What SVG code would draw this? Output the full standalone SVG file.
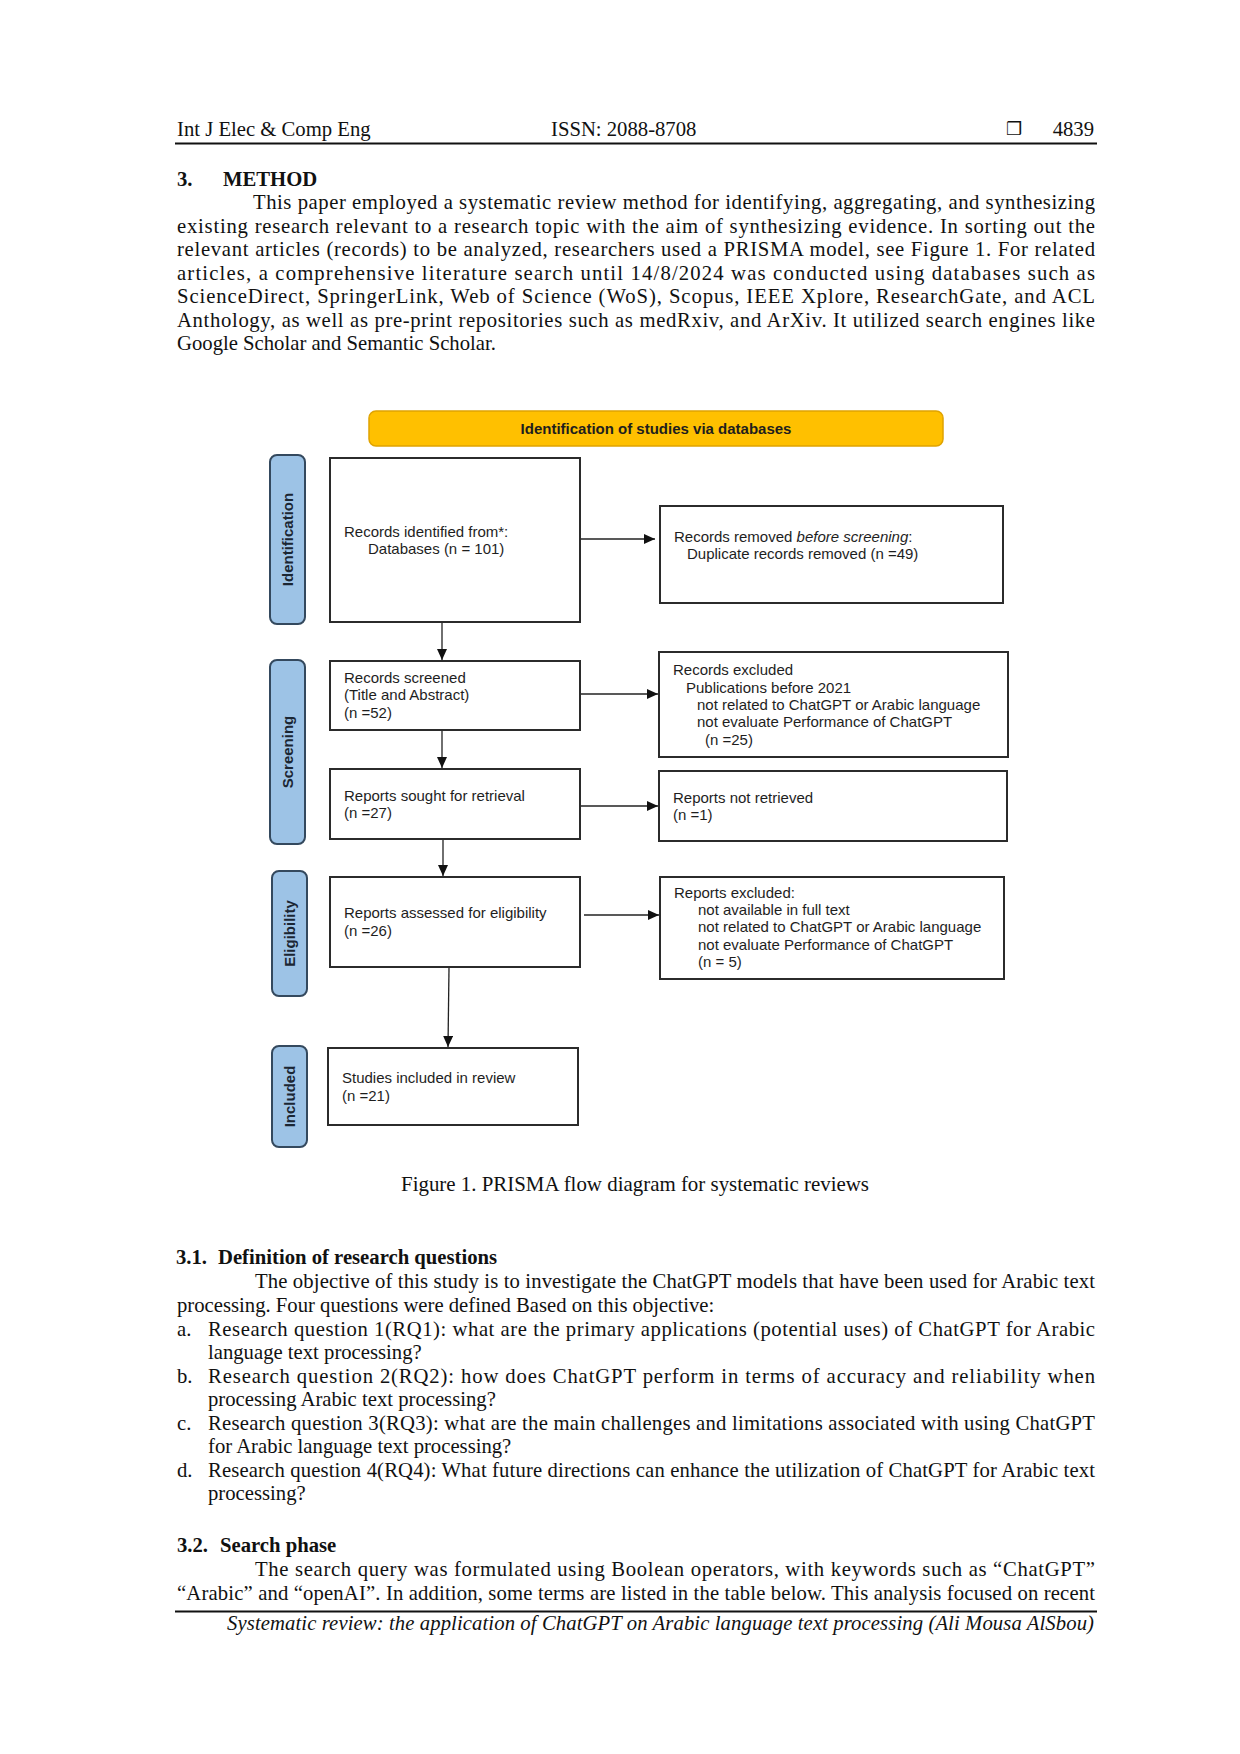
<svg xmlns="http://www.w3.org/2000/svg" width="1240" height="1754" viewBox="0 0 1240 1754">
<style>
.pg{font-family:"Liberation Serif","Times New Roman",serif;font-size:20.7px;fill:#111}
.b{font-weight:bold}
.it{font-style:italic}
.dg{font-family:"Liberation Sans",Arial,sans-serif;font-size:15px;fill:#1e1e1e}
.box{fill:#fff;stroke:#2b2b2b;stroke-width:2}
.side{fill:#9dc3e6;stroke:#34495e;stroke-width:2}
.sidet{font-family:"Liberation Sans",Arial,sans-serif;font-size:15px;font-weight:bold;fill:#1b2633}
.con{stroke:#222;stroke-width:1.3;fill:none}
</style>
<defs>
<marker id="ah" markerUnits="userSpaceOnUse" markerWidth="11" markerHeight="10" refX="11" refY="5" orient="auto">
<path d="M0,0 L11,5 L0,10 z" fill="#111"/>
</marker>
</defs>
<rect width="1240" height="1754" fill="#fff"/>

<g id="page-header">
<text class="pg" x="177" y="136">Int J Elec &amp; Comp Eng</text>
<text class="pg" x="551" y="136">ISSN: 2088-8708</text>
<text x="1006" y="135" style="font-family:'DejaVu Sans',sans-serif;font-size:18px;fill:#111">❒</text>
<text class="pg" x="1094" y="136" text-anchor="end">4839</text>
<line x1="175" y1="143.5" x2="1097" y2="143.5" stroke="#111" stroke-width="2"/>
</g>

<g id="section-3">
<text class="pg b" x="177" y="185.5">3.</text>
<text class="pg b" x="223" y="185.5">METHOD</text>
<text class="pg" x="253" y="209" textLength="842" lengthAdjust="spacing">This paper employed a systematic review method for identifying, aggregating, and synthesizing</text>
<text class="pg" x="177" y="232.5" textLength="918" lengthAdjust="spacing">existing research relevant to a research topic with the aim of synthesizing evidence. In sorting out the</text>
<text class="pg" x="177" y="256" textLength="918" lengthAdjust="spacing">relevant articles (records) to be analyzed, researchers used a PRISMA model, see Figure 1. For related</text>
<text class="pg" x="177" y="279.5" textLength="918" lengthAdjust="spacing">articles, a comprehensive literature search until 14/8/2024 was conducted using databases such as</text>
<text class="pg" x="177" y="303" textLength="918" lengthAdjust="spacing">ScienceDirect, SpringerLink, Web of Science (WoS), Scopus, IEEE Xplore, ResearchGate, and ACL</text>
<text class="pg" x="177" y="326.5" textLength="918" lengthAdjust="spacing">Anthology, as well as pre-print repositories such as medRxiv, and ArXiv. It utilized search engines like</text>
<text class="pg" x="177" y="350">Google Scholar and Semantic Scholar.</text>
</g>

<g id="diagram">
<g id="title">
<rect x="369" y="411" width="574" height="35" rx="7" fill="#ffc000" stroke="#e0a300" stroke-width="1.5"/>
<text class="dg b" x="656" y="434" text-anchor="middle" style="font-weight:bold">Identification of studies via databases</text>
</g>

<g id="lbl-identification">
<rect class="side" x="270" y="455" width="35" height="169" rx="7"/>
<text class="sidet" transform="translate(287.5,539.5) rotate(-90)" text-anchor="middle" y="5.3">Identification</text>
</g>
<g id="lbl-screening">
<rect class="side" x="270" y="660" width="35" height="184" rx="7"/>
<text class="sidet" transform="translate(287.5,752) rotate(-90)" text-anchor="middle" y="5.3">Screening</text>
</g>
<g id="lbl-eligibility">
<rect class="side" x="272" y="871" width="35" height="125" rx="7"/>
<text class="sidet" transform="translate(289.5,933.5) rotate(-90)" text-anchor="middle" y="5.3">Eligibility</text>
</g>
<g id="lbl-included">
<rect class="side" x="272" y="1046" width="35" height="101" rx="7"/>
<text class="sidet" transform="translate(289.5,1096.5) rotate(-90)" text-anchor="middle" y="5.3">Included</text>
</g>

<g id="n-identified">
<rect class="box" x="330" y="458" width="250" height="164"/>
<text class="dg" x="344" y="537">Records identified from*:</text>
<text class="dg" x="368" y="554">Databases (n = 101)</text>
</g>
<g id="n-removed">
<rect class="box" x="660" y="506" width="343" height="97"/>
<text class="dg" x="674" y="542">Records removed <tspan font-style="italic">before screening</tspan>:</text>
<text class="dg" x="687" y="559">Duplicate records removed (n =49)</text>
</g>
<g id="n-screened">
<rect class="box" x="330" y="661" width="250" height="69"/>
<text class="dg" x="344" y="683">Records screened</text>
<text class="dg" x="344" y="700">(Title and Abstract)</text>
<text class="dg" x="344" y="718">(n =52)</text>
</g>
<g id="n-excluded">
<rect class="box" x="659" y="652" width="349" height="105"/>
<text class="dg" x="673" y="675">Records excluded</text>
<text class="dg" x="686" y="693">Publications before 2021</text>
<text class="dg" x="697" y="710">not related to ChatGPT or Arabic language</text>
<text class="dg" x="697" y="727">not evaluate Performance of ChatGPT</text>
<text class="dg" x="705" y="745">(n =25)</text>
</g>
<g id="n-sought">
<rect class="box" x="330" y="769" width="250" height="70"/>
<text class="dg" x="344" y="801">Reports sought for retrieval</text>
<text class="dg" x="344" y="818">(n =27)</text>
</g>
<g id="n-notretrieved">
<rect class="box" x="659" y="771" width="348" height="70"/>
<text class="dg" x="673" y="803">Reports not retrieved</text>
<text class="dg" x="673" y="820">(n =1)</text>
</g>
<g id="n-eligibility">
<rect class="box" x="330" y="877" width="250" height="90"/>
<text class="dg" x="344" y="918">Reports assessed for eligibility</text>
<text class="dg" x="344" y="936">(n =26)</text>
</g>
<g id="n-reportsexcluded">
<rect class="box" x="660" y="877" width="344" height="102"/>
<text class="dg" x="674" y="898">Reports excluded:</text>
<text class="dg" x="698" y="915">not available in full text</text>
<text class="dg" x="698" y="932">not related to ChatGPT or Arabic language</text>
<text class="dg" x="698" y="950">not evaluate Performance of ChatGPT</text>
<text class="dg" x="698" y="967">(n = 5)</text>
</g>
<g id="n-included">
<rect class="box" x="328" y="1048" width="250" height="77"/>
<text class="dg" x="342" y="1083">Studies included in review</text>
<text class="dg" x="342" y="1101">(n =21)</text>
</g>

<g id="connectors">
<line class="con" x1="581" y1="539" x2="655" y2="539" marker-end="url(#ah)"/>
<line class="con" x1="442" y1="623" x2="442" y2="660" marker-end="url(#ah)"/>
<line class="con" x1="581" y1="694" x2="658" y2="694" marker-end="url(#ah)"/>
<line class="con" x1="442" y1="731" x2="442" y2="768" marker-end="url(#ah)"/>
<line class="con" x1="581" y1="806" x2="658" y2="806" marker-end="url(#ah)"/>
<line class="con" x1="443" y1="840" x2="443" y2="876" marker-end="url(#ah)"/>
<line class="con" x1="584" y1="915" x2="659" y2="915" marker-end="url(#ah)"/>
<line class="con" x1="449" y1="968" x2="448" y2="1047" marker-end="url(#ah)"/>
</g>
</g>

<g id="caption">
<text class="pg" x="401" y="1191" textLength="468" lengthAdjust="spacingAndGlyphs">Figure 1. PRISMA flow diagram for systematic reviews</text>
</g>

<g id="section-3-1">
<text class="pg b" x="176" y="1264">3.1.</text>
<text class="pg b" x="218" y="1264">Definition of research questions</text>
<text class="pg" x="255" y="1288" textLength="840" lengthAdjust="spacing">The objective of this study is to investigate the ChatGPT models that have been used for Arabic text</text>
<text class="pg" x="177" y="1311.5">processing. Four questions were defined Based on this objective:</text>
<text class="pg" x="177" y="1335.5">a.</text>
<text class="pg" x="208" y="1335.5" textLength="887" lengthAdjust="spacing">Research question 1(RQ1): what are the primary applications (potential uses) of ChatGPT for Arabic</text>
<text class="pg" x="208" y="1359">language text processing?</text>
<text class="pg" x="177" y="1382.5">b.</text>
<text class="pg" x="208" y="1382.5" textLength="887" lengthAdjust="spacing">Research question 2(RQ2): how does ChatGPT perform in terms of accuracy and reliability when</text>
<text class="pg" x="208" y="1406">processing Arabic text processing?</text>
<text class="pg" x="177" y="1429.5">c.</text>
<text class="pg" x="208" y="1429.5" textLength="887" lengthAdjust="spacing">Research question 3(RQ3): what are the main challenges and limitations associated with using ChatGPT</text>
<text class="pg" x="208" y="1453">for Arabic language text processing?</text>
<text class="pg" x="177" y="1476.5">d.</text>
<text class="pg" x="208" y="1476.5" textLength="887" lengthAdjust="spacing">Research question 4(RQ4): What future directions can enhance the utilization of ChatGPT for Arabic text</text>
<text class="pg" x="208" y="1500">processing?</text>
</g>

<g id="section-3-2">
<text class="pg b" x="177" y="1551.5">3.2.</text>
<text class="pg b" x="220" y="1551.5">Search phase</text>
<text class="pg" x="255" y="1576" textLength="840" lengthAdjust="spacing">The search query was formulated using Boolean operators, with keywords such as “ChatGPT”</text>
<text class="pg" x="177" y="1599.5" textLength="918" lengthAdjust="spacing">“Arabic” and “openAI”. In addition, some terms are listed in the table below. This analysis focused on recent</text>
</g>

<g id="page-footer">
<line x1="175" y1="1611.5" x2="1097" y2="1611.5" stroke="#111" stroke-width="2"/>
<text class="pg it" x="227" y="1630" textLength="867" lengthAdjust="spacing">Systematic review: the application of ChatGPT on Arabic language text processing (Ali Mousa AlSbou)</text>
</g>
</svg>
